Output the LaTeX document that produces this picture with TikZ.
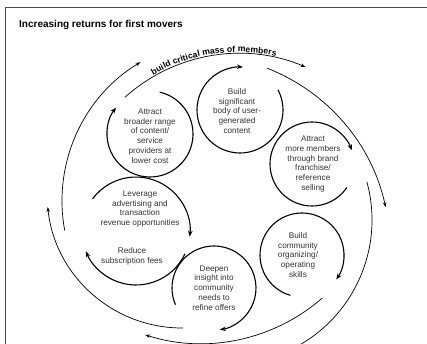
\documentclass[tikz,border=0pt]{standalone}
\usepackage{fontspec}
\setmainfont{Liberation Sans}
\usetikzlibrary{arrows.meta,decorations.text}
\begin{document}
\begin{tikzpicture}[x=1pt,y=-1pt,
  lbl/.style={align=center,font=\fontsize{8.2}{9.8}\selectfont,text=black!80,inner sep=0pt},
  loop/.style={line width=1.1pt,-{Stealth[length=6pt,width=4.5pt]}},
  outer/.style={line width=0.7pt,-{Stealth[length=5pt,width=3.5pt]}}]
\useasboundingbox (0,0) rectangle (427,344);
\draw[gray!60!black,line width=1.2pt] (5.5,360) -- (5.5,7.5) -- (440,7.5);
\node[anchor=west,font=\fontsize{10}{12}\selectfont\bfseries,inner sep=0pt] (title) at (19,25) {Increasing returns for first movers};

% text nodes
\node[lbl] (broad) at (150,136) {Attract\\broader range\\of content/\\service\\providers at\\lower cost};
\node[lbl] (body) at (237,111) {Build\\significant\\body of user-\\generated\\content};
\node[lbl] (members) at (313,164) {Attract\\more members\\through brand\\franchise/\\reference\\selling};
\node[lbl] (skills) at (298,255) {Build\\community\\organizing/\\operating\\skills};
\node[lbl] (deepen) at (214,288) {Deepen\\insight into\\community\\needs to\\refine offers};
\node[lbl] (leverage) at (140,209) {Leverage\\advertising and\\transaction\\revenue opportunities};
\node[lbl] (reduce) at (132,256) {Reduce\\subscription fees};

% small loops
\draw[loop] ([shift={(-77:43)}]150,134) arc[start angle=-77,end angle=218,radius=43];
\draw[loop] ([shift={(-28:43)}]240,110) arc[start angle=-28,end angle=274,radius=43];
\draw[loop] ([shift={(34:42)}]312,164) arc[start angle=34,end angle=341,radius=42];
\draw[loop] ([shift={(106:42)}]302,255) arc[start angle=106,end angle=395.5,radius=42];
\draw[loop] ([shift={(156.5:42)}]214,288) arc[start angle=156.5,end angle=442,radius=42];
\draw[loop] ([shift={(216.5:54)}]136,231) arc[start angle=216.5,end angle=366,radius=54];
\draw[loop] ([shift={(25:54)}]136,231) arc[start angle=25,end angle=158,radius=54];

% outer arcs
\draw[outer] ([shift={(169.5:162)}]224,201) arc[start angle=169.5,end angle=239,radius=162];
\draw[outer] ([shift={(228:170.5)}]239,224) arc[start angle=228,end angle=293,radius=170.5];
\draw[outer] ([shift={(291.3:193)}]197,248) arc[start angle=291.3,end angle=347.8,radius=193];
\draw[line width=0.7pt] ([shift={(-15.3:144)}]228,220) arc[start angle=-15.3,end angle=66,radius=144];
\draw[outer] ([shift={(49:184.5)}]201,159) arc[start angle=49,end angle=107.6,radius=184.5];
\draw[outer] ([shift={(89.6:135)}]182,193) arc[start angle=89.6,end angle=174,radius=135];

\path[decorate,decoration={text along path,text align=left,raise=1.5pt,
  text={|\fontsize{8.6}{10}\selectfont\bfseries|build critical mass of members}}]
  ([shift={(240:170.5)}]239,224) arc[start angle=240,end angle=290,radius=170.5];
\end{tikzpicture}
\end{document}
